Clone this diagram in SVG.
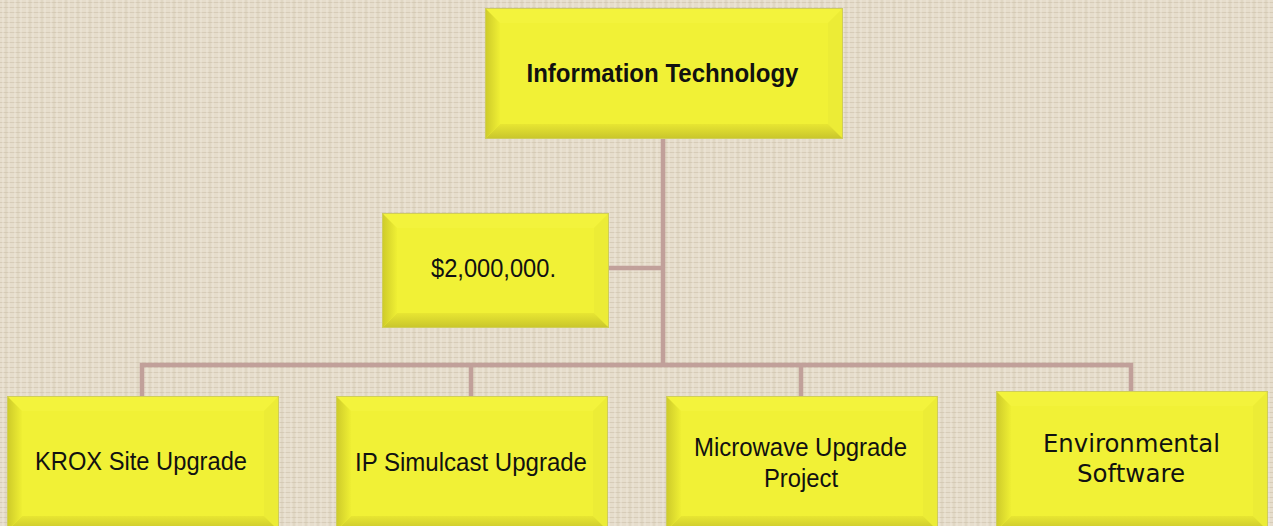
<svg xmlns="http://www.w3.org/2000/svg" width="1273" height="526" viewBox="0 0 1273 526">
<defs>
<pattern id="tex" width="12" height="10" patternUnits="userSpaceOnUse">
<rect width="12" height="10" fill="#e6ddcc"/>
<path d="M0 2.5H12M0 7.5H12" stroke="#d3c8b3" stroke-width="0.8"/>
<path d="M3 0V10M9 0V10" stroke="#f0eadd" stroke-width="0.8"/>
<path d="M6 0V10" stroke="#cec3ad" stroke-width="0.5"/>
</pattern>
<linearGradient id="lb" x1="0" y1="0" x2="1" y2="0">
<stop offset="0" stop-color="#cfcc2a"/>
<stop offset="1" stop-color="#efef34"/>
</linearGradient>
<linearGradient id="bb" x1="0" y1="0" x2="0" y2="1">
<stop offset="0" stop-color="#e8e632"/>
<stop offset="1" stop-color="#cac72c"/>
</linearGradient>
<style>
.face{fill:#f1f136}
.out{fill:#f1f136;stroke:#cfcd5a;stroke-width:2}
.lbev{fill:url(#lb)}
.bbev{fill:url(#bb)}
.tbev{fill:#f3f33c}
.rbev{fill:#ecec36}
.lbl{font-family:"Liberation Sans",Arial,sans-serif;font-size:26.5px;fill:#111;text-anchor:middle}
.env{font-family:"DejaVu Sans","Liberation Sans",sans-serif;font-size:24px;fill:#111;text-anchor:middle}
.con{stroke:#c1a09a;stroke-width:4.5;fill:none}
</style>
</defs>
<rect width="1273" height="526" fill="url(#tex)"/>
<g id="connectors">
<path class="con" d="M663 138V365"/>
<path class="con" d="M608 268H663"/>
<path class="con" d="M142 397V365H1131V392"/>
<path class="con" d="M471 365V397"/>
<path class="con" d="M801 365V397"/>
</g>
<g id="node-it">
<rect class="out" x="486" y="9" width="356" height="129"/>
<polygon class="tbev" points="486,9 842,9 828,23 500,23"/>
<polygon class="rbev" points="842,9 842,138 828,124 828,23"/>
<polygon class="bbev" points="486,138 842,138 828,124 500,124"/>
<polygon class="lbev" points="486,9 500,23 500,124 486,138"/>
<rect class="face" x="500" y="23" width="328" height="101"/>
<text class="lbl" x="662.5" y="82" font-weight="bold" style="font-size:25.5px" textLength="272" lengthAdjust="spacingAndGlyphs">Information Technology</text>
</g>
<g id="node-amount">
<rect class="out" x="383" y="214" width="225" height="113"/>
<polygon class="tbev" points="383,214 608,214 594,228 397,228"/>
<polygon class="rbev" points="608,214 608,327 594,313 594,228"/>
<polygon class="bbev" points="383,327 608,327 594,313 397,313"/>
<polygon class="lbev" points="383,214 397,228 397,313 383,327"/>
<rect class="face" x="397" y="228" width="197" height="85"/>
<text class="lbl" x="493.5" y="277" textLength="125" lengthAdjust="spacingAndGlyphs">$2,000,000.</text>
</g>
<g id="node-krox">
<rect class="out" x="8" y="397" width="270" height="133"/>
<polygon class="tbev" points="8,397 278,397 264,411 22,411"/>
<polygon class="rbev" points="278,397 278,530 264,516 264,411"/>
<polygon class="bbev" points="8,530 278,530 264,516 22,516"/>
<polygon class="lbev" points="8,397 22,411 22,516 8,530"/>
<rect class="face" x="22" y="411" width="242" height="105"/>
<text class="lbl" x="141" y="470" textLength="212" lengthAdjust="spacingAndGlyphs">KROX Site Upgrade</text>
</g>
<g id="node-ip">
<rect class="out" x="337" y="397" width="270" height="133"/>
<polygon class="tbev" points="337,397 607,397 593,411 351,411"/>
<polygon class="rbev" points="607,397 607,530 593,516 593,411"/>
<polygon class="bbev" points="337,530 607,530 593,516 351,516"/>
<polygon class="lbev" points="337,397 351,411 351,516 337,530"/>
<rect class="face" x="351" y="411" width="242" height="105"/>
<text class="lbl" x="471" y="471" textLength="232" lengthAdjust="spacingAndGlyphs">IP Simulcast Upgrade</text>
</g>
<g id="node-microwave">
<rect class="out" x="667" y="397" width="270" height="133"/>
<polygon class="tbev" points="667,397 937,397 923,411 681,411"/>
<polygon class="rbev" points="937,397 937,530 923,516 923,411"/>
<polygon class="bbev" points="667,530 937,530 923,516 681,516"/>
<polygon class="lbev" points="667,397 681,411 681,516 667,530"/>
<rect class="face" x="681" y="411" width="242" height="105"/>
<text class="lbl" x="800.5" y="456" textLength="213" lengthAdjust="spacingAndGlyphs">Microwave Upgrade</text>
<text class="lbl" x="801" y="487" textLength="74" lengthAdjust="spacingAndGlyphs">Project</text>
</g>
<g id="node-env">
<rect class="out" x="997" y="392" width="270" height="138"/>
<polygon class="tbev" points="997,392 1267,392 1253,406 1011,406"/>
<polygon class="rbev" points="1267,392 1267,530 1253,516 1253,406"/>
<polygon class="bbev" points="997,530 1267,530 1253,516 1011,516"/>
<polygon class="lbev" points="997,392 1011,406 1011,516 997,530"/>
<rect class="face" x="1011" y="406" width="242" height="110"/>
<text class="env" x="1131.5" y="452" textLength="177" lengthAdjust="spacingAndGlyphs">Environmental</text>
<text class="env" x="1131" y="482" textLength="108" lengthAdjust="spacingAndGlyphs">Software</text>
</g>
</svg>
